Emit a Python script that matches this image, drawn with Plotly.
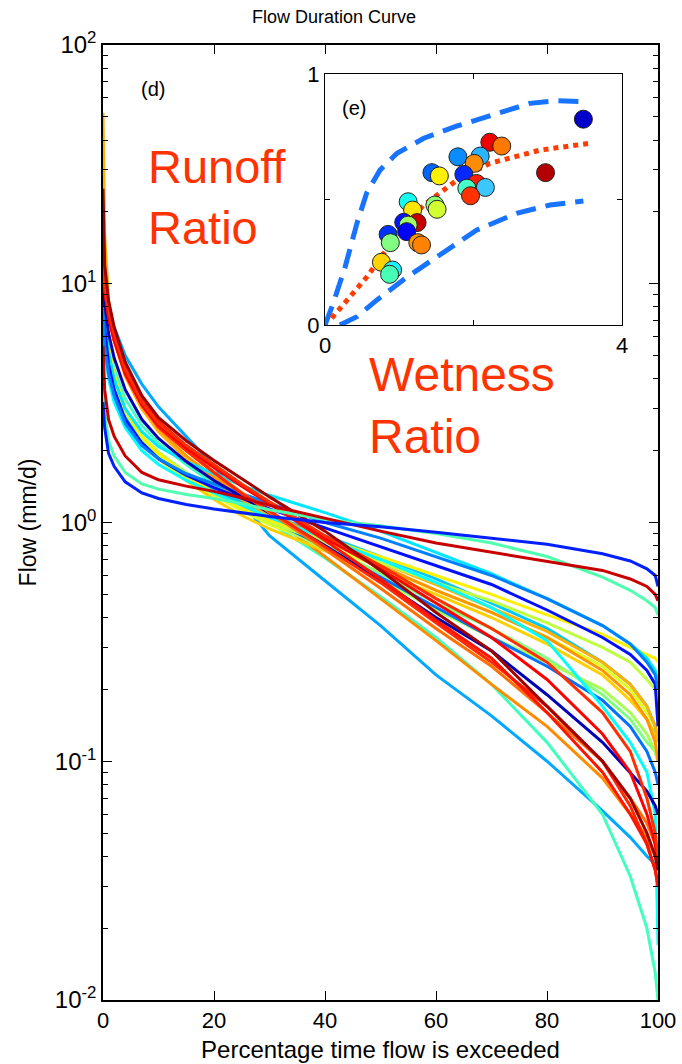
import plotly.graph_objects as go

# ---------------- data ----------------
percent = [0, 0.3, 1, 2, 4, 7, 10, 15, 20, 25, 30, 40, 50, 60, 70, 80, 90, 95, 98, 99.5, 100]

fdc_blue_flat   = [3.2, 2.5, 1.95, 1.72, 1.48, 1.33, 1.26, 1.19, 1.14, 1.1, 1.06, 1.0, 0.96, 0.91, 0.86, 0.81, 0.74, 0.69, 0.64, 0.6, 0.54]
fdc_aqua_flat   = [4.0, 2.9, 2.2, 1.9, 1.62, 1.45, 1.38, 1.31, 1.26, 1.2, 1.13, 1.03, 0.97, 0.9, 0.82, 0.72, 0.59, 0.52, 0.47, 0.44, 0.41]
fdc_red_flat    = [5.5, 3.6, 2.7, 2.3, 1.9, 1.62, 1.51, 1.42, 1.35, 1.27, 1.18, 1.04, 0.92, 0.82, 0.75, 0.69, 0.63, 0.58, 0.54, 0.5, 0.47]
fdc_dodger      = [8, 5.5, 4.2, 3.4, 2.6, 2.1, 1.85, 1.6, 1.45, 1.32, 1.2, 1.0, 0.86, 0.72, 0.6, 0.48, 0.37, 0.31, 0.26, 0.23, 0.2]
fdc_blue        = [10, 6.5, 4.6, 3.6, 2.7, 2.15, 1.85, 1.58, 1.4, 1.26, 1.14, 0.95, 0.79, 0.66, 0.55, 0.43, 0.33, 0.28, 0.24, 0.21, 0.14]
fdc_cyan_top    = [11, 7.5, 5.2, 4.0, 3.0, 2.4, 2.08, 1.8, 1.6, 1.43, 1.3, 1.1, 0.92, 0.75, 0.61, 0.48, 0.37, 0.31, 0.27, 0.24, 0.22]
fdc_yellow_up   = [20, 9, 5.5, 4.2, 3.0, 2.3, 1.95, 1.58, 1.33, 1.15, 1.02, 0.86, 0.72, 0.6, 0.5, 0.41, 0.34, 0.3, 0.28, 0.27, 0.26]
fdc_yellowgreen = [14, 8, 5.2, 4.0, 2.9, 2.25, 1.92, 1.57, 1.33, 1.15, 1.0, 0.83, 0.68, 0.56, 0.47, 0.38, 0.3, 0.26, 0.22, 0.2, 0.19]
fdc_orange_tall = [52, 16, 8.5, 6.3, 4.3, 3.0, 2.4, 1.85, 1.5, 1.25, 1.07, 0.85, 0.68, 0.55, 0.44, 0.35, 0.26, 0.21, 0.17, 0.14, 0.12]
fdc_orange2     = [16, 10, 7.5, 5.8, 4.1, 3.0, 2.45, 1.9, 1.55, 1.3, 1.1, 0.84, 0.66, 0.52, 0.42, 0.33, 0.24, 0.19, 0.15, 0.12, 0.1]
fdc_yellow_mid  = [13, 8, 5.2, 4.0, 2.9, 2.2, 1.85, 1.5, 1.25, 1.07, 0.94, 0.76, 0.62, 0.5, 0.4, 0.31, 0.23, 0.18, 0.15, 0.13, 0.12]
fdc_cyan_drop   = [8, 5.5, 4.0, 3.2, 2.5, 2.0, 1.75, 1.5, 1.33, 1.18, 1.05, 0.86, 0.7, 0.56, 0.44, 0.32, 0.17, 0.12, 0.09, 0.06, 0.017]
fdc_red_mid     = [15, 10, 7.8, 6.2, 4.4, 3.2, 2.6, 2.1, 1.75, 1.45, 1.22, 0.88, 0.66, 0.48, 0.36, 0.26, 0.16, 0.11, 0.07, 0.05, 0.04]
fdc_red2        = [12, 9.5, 7.2, 5.8, 4.2, 3.1, 2.55, 2.05, 1.7, 1.42, 1.2, 0.86, 0.64, 0.46, 0.33, 0.22, 0.13, 0.09, 0.06, 0.045, 0.035]
fdc_green       = [10, 7, 4.8, 3.8, 2.8, 2.2, 1.9, 1.58, 1.36, 1.18, 1.03, 0.8, 0.61, 0.46, 0.36, 0.27, 0.19, 0.15, 0.12, 0.11, 0.1]
fdc_dodger2     = [9, 6.5, 4.6, 3.6, 2.75, 2.2, 1.9, 1.58, 1.36, 1.18, 1.03, 0.79, 0.59, 0.44, 0.33, 0.25, 0.18, 0.14, 0.11, 0.09, 0.08]
fdc_lightgreen  = [11, 7.5, 5.0, 3.9, 2.9, 2.3, 1.97, 1.62, 1.38, 1.18, 1.02, 0.77, 0.58, 0.43, 0.33, 0.26, 0.2, 0.16, 0.13, 0.11, 0.1]
fdc_darkblue    = [12, 8.5, 6.2, 4.9, 3.6, 2.7, 2.25, 1.8, 1.5, 1.28, 1.1, 0.8, 0.57, 0.4, 0.29, 0.19, 0.12, 0.09, 0.075, 0.065, 0.06]
fdc_darkred     = [25, 12, 8.5, 6.6, 4.7, 3.4, 2.75, 2.2, 1.82, 1.52, 1.28, 0.92, 0.63, 0.42, 0.29, 0.17, 0.1, 0.07, 0.05, 0.04, 0.035]
fdc_red3        = [14, 10, 7.6, 6.0, 4.4, 3.25, 2.65, 2.1, 1.72, 1.43, 1.2, 0.84, 0.58, 0.39, 0.27, 0.16, 0.09, 0.06, 0.045, 0.035, 0.03]
fdc_orange3     = [18, 11, 8.0, 6.2, 4.4, 3.2, 2.55, 2.0, 1.62, 1.33, 1.1, 0.77, 0.53, 0.36, 0.25, 0.16, 0.1, 0.07, 0.055, 0.045, 0.04]
fdc_aqua_low    = [10, 7.5, 5.5, 4.4, 3.3, 2.55, 2.15, 1.75, 1.45, 1.2, 1.0, 0.71, 0.49, 0.33, 0.21, 0.12, 0.06, 0.033, 0.02, 0.013, 0.01]
fdc_lightblue   = [14, 10, 8, 6.6, 5.0, 3.8, 3.05, 2.3, 1.72, 1.22, 0.88, 0.57, 0.37, 0.23, 0.155, 0.1, 0.062, 0.048, 0.04, 0.037, 0.035]
fdc_orange_low  = [16, 10.5, 7.8, 6.1, 4.4, 3.2, 2.6, 2.05, 1.62, 1.3, 1.07, 0.72, 0.48, 0.32, 0.21, 0.14, 0.085, 0.06, 0.048, 0.04, 0.035]
fdc_red_low     = [13, 9.5, 7.3, 5.8, 4.2, 3.1, 2.5, 2.0, 1.62, 1.32, 1.12, 0.79, 0.56, 0.38, 0.26, 0.17, 0.1, 0.065, 0.045, 0.035, 0.03]
fdc_yellow2     = [12, 7.5, 4.8, 3.7, 2.75, 2.15, 1.85, 1.52, 1.3, 1.12, 0.98, 0.8, 0.65, 0.52, 0.42, 0.33, 0.25, 0.2, 0.16, 0.14, 0.13]
fdc_deepsky     = [9, 6.5, 4.5, 3.5, 2.7, 2.15, 1.85, 1.57, 1.38, 1.22, 1.08, 0.88, 0.72, 0.58, 0.46, 0.36, 0.26, 0.21, 0.17, 0.14, 0.12]

curve_list = [
    (fdc_lightblue, "#00A8FF"), (fdc_aqua_low, "#40FFC0"), (fdc_orange_low, "#FF8C00"),
    (fdc_yellow_mid, "#FFD000"), (fdc_yellow2, "#E0FF20"), (fdc_green, "#80FF80"),
    (fdc_lightgreen, "#A8FF58"), (fdc_dodger2, "#0070FF"), (fdc_deepsky, "#00C8FF"),
    (fdc_orange2, "#FF9400"), (fdc_orange_tall, "#FFB000"), (fdc_yellowgreen, "#C0FF40"),
    (fdc_yellow_up, "#FFF000"), (fdc_cyan_drop, "#00FFFF"), (fdc_cyan_top, "#00E8FF"),
    (fdc_blue, "#0010FF"), (fdc_dodger, "#0080FF"), (fdc_darkblue, "#0000B4"),
    (fdc_orange3, "#FF7000"), (fdc_red_low, "#FF2800"), (fdc_red3, "#FF1400"),
    (fdc_red2, "#FF0000"), (fdc_red_mid, "#FF3000"), (fdc_darkred, "#A00000"),
    (fdc_aqua_flat, "#50FFAF"), (fdc_red_flat, "#C80000"), (fdc_blue_flat, "#0020FF"),
]

# inset (e): wetness ratio vs runoff ratio
wetness = [3.48, 2.22, 2.38, 1.79, 2.09, 2.01, 2.97, 1.44, 1.54, 1.87, 2.04, 2.16, 1.91, 1.96,
           1.12, 1.48, 1.51, 1.18, 1.06, 1.24, 1.12, 1.10, 0.85, 0.88, 1.25, 1.30, 0.76, 0.91, 0.87]
runoff = [0.82, 0.728, 0.713, 0.67, 0.673, 0.644, 0.607, 0.607, 0.594, 0.60, 0.564, 0.548, 0.545, 0.515,
          0.491, 0.478, 0.461, 0.458, 0.409, 0.408, 0.398, 0.372, 0.361, 0.328, 0.328, 0.319, 0.25, 0.219, 0.202]
point_colors = ["#0000C8", "#F00000", "#FF7800", "#0A8CFF", "#28B4FF", "#FF8C00", "#B40000", "#0064FF",
                "#FFF000", "#0028FF", "#FF1E00", "#3CC8FF", "#46FFC8", "#FF3200", "#14FFF0", "#8CFF78",
                "#D2FF32", "#FFE600", "#0014FF", "#C80000", "#A0FF64", "#0000FF", "#0032FF", "#82FF82",
                "#FF9600", "#FF8200", "#FFD200", "#1EF0FF", "#46FFB4"]

upper_x = [0, 0.11, 0.27, 0.43, 0.56, 0.74, 0.97, 1.33, 1.78, 2.31, 2.76, 3.12, 3.43]
upper_y = [0, 0.086, 0.23, 0.405, 0.525, 0.617, 0.684, 0.744, 0.793, 0.843, 0.883, 0.894, 0.89]
lower_x = [0.2, 0.43, 0.70, 1.10, 1.55, 2.04, 2.58, 3.03, 3.48]
lower_y = [0.0, 0.033, 0.10, 0.19, 0.28, 0.378, 0.445, 0.478, 0.494]
mid_x = [0.09, 0.34, 0.56, 0.79, 1.01, 1.33, 1.78, 2.22, 2.90, 3.57]
mid_y = [0.027, 0.113, 0.19, 0.285, 0.378, 0.478, 0.578, 0.644, 0.697, 0.724]

x_ticks = [0, 20, 40, 60, 80, 100]
y_ticks = [0.01, 0.1, 1, 10, 100]
y_tick_text = ["10<sup>-2</sup>", "10<sup>-1</sup>", "10<sup>0</sup>", "10<sup>1</sup>", "10<sup>2</sup>"]

# ---------------- figure ----------------
W, H = 682, 1064
L, R, T, B = 103, 24, 45, 64
PW, PH = W - L - R, H - T - B


def px(x):
    return (x - L) / PW


def py(y):
    return (H - B - y) / PH


FONT = "Liberation Sans, Arial, Helvetica, sans-serif"
TEXT_RED = "#FF3300"

fig = go.Figure()
for vals, col in curve_list:
    fig.add_trace(go.Scatter(x=percent, y=vals, mode="lines",
                             line=dict(color=col, width=3), showlegend=False,
                             hoverinfo="skip"))

fig.add_trace(go.Scatter(x=upper_x, y=upper_y, mode="lines", xaxis="x2", yaxis="y2",
                         line=dict(color="#1874FF", width=5, dash="20px,10px"), showlegend=False))
fig.add_trace(go.Scatter(x=lower_x, y=lower_y, mode="lines", xaxis="x2", yaxis="y2",
                         line=dict(color="#1874FF", width=5, dash="20px,10px"), showlegend=False))
fig.add_trace(go.Scatter(x=mid_x, y=mid_y, mode="lines", xaxis="x2", yaxis="y2",
                         line=dict(color="#FF3C00", width=5, dash="dot"), showlegend=False))
fig.add_trace(go.Scatter(x=wetness, y=runoff, mode="markers", xaxis="x2", yaxis="y2",
                         marker=dict(size=18, color=point_colors, line=dict(color="#222222", width=1)),
                         showlegend=False))

minor_vals = [m * 10 ** e for e in range(-2, 2) for m in range(2, 10)]

fig.update_layout(
    width=W, height=H,
    margin=dict(l=L, r=R, t=T, b=B, autoexpand=False),
    paper_bgcolor="white", plot_bgcolor="white",
    font=dict(family=FONT, color="black", size=22),
    title=dict(text="Flow Duration Curve", x=334 / W, xref="container", xanchor="center",
               y=1 - 17 / H, yref="container", yanchor="middle",
               font=dict(size=18, family=FONT, color="black")),
    xaxis=dict(range=[0, 100], tickvals=x_ticks, ticks="inside", ticklen=9, tickwidth=1,
               tickcolor="black", showline=True, linecolor="black", linewidth=1.5,
               mirror="allticks", showgrid=False, zeroline=False, automargin=False,
               tickfont=dict(size=22),
               title=dict(text="Percentage time flow is exceeded", font=dict(size=24), standoff=9)),
    yaxis=dict(type="log", range=[-2, 2], tickvals=y_ticks, ticktext=y_tick_text,
               ticks="inside", ticklen=9, tickwidth=1, tickcolor="black",
               minor=dict(tickvals=minor_vals, ticks="inside", ticklen=5, tickcolor="black", showgrid=False),
               showline=True, linecolor="black", linewidth=1.5, mirror="allticks",
               showgrid=False, zeroline=False, automargin=False, tickfont=dict(size=24),
               title=dict(text="Flow (mm/d)", font=dict(size=23), standoff=12)),
    xaxis2=dict(domain=[px(325), px(622)], anchor="y2", range=[0, 4], tickvals=[0, 2, 4],
                ticktext=["0", "", "4"], ticks="inside", ticklen=5, tickcolor="black",
                showline=True, linecolor="black", linewidth=1.2, mirror="allticks",
                showgrid=False, zeroline=False, automargin=False, tickfont=dict(size=22)),
    yaxis2=dict(domain=[py(325), py(74)], anchor="x2", range=[0, 1], tickvals=[0, 0.5, 1],
                ticktext=["0", "", "1"], ticks="inside", ticklen=5, tickcolor="black",
                showline=True, linecolor="black", linewidth=1.2, mirror="allticks",
                showgrid=False, zeroline=False, automargin=False, tickfont=dict(size=22)),
)

fig.add_annotation(text="(d)", xref="paper", yref="paper", x=px(139), y=py(76),
                   showarrow=False, font=dict(size=20, color="black"))
fig.add_annotation(text="(e)", xref="paper", yref="paper", x=px(354), y=py(95),
                   showarrow=False, font=dict(size=20, color="black"))
fig.add_annotation(text="Runoff<br>Ratio", xref="paper", yref="paper", x=px(146), y=py(138),
                   xanchor="left", yanchor="top", align="left", showarrow=False,
                   font=dict(size=47, color=TEXT_RED))
fig.add_annotation(text="Wetness<br>Ratio", xref="paper", yref="paper", x=px(367), y=py(346),
                   xanchor="left", yanchor="top", align="left", showarrow=False,
                   font=dict(size=48, color=TEXT_RED))

fig.write_html("out.html")
